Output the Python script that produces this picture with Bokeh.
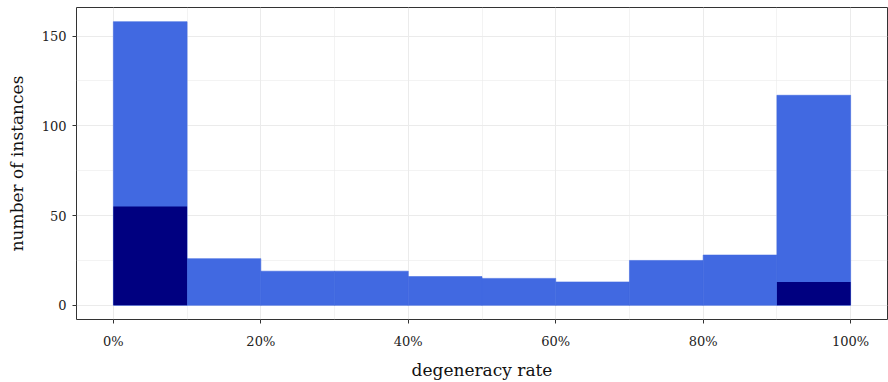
from bokeh.plotting import figure
from bokeh.models import FixedTicker, NumeralTickFormatter, Range1d
from bokeh.embed import file_html
from bokeh.resources import INLINE

# histogram bins (degeneracy rate) and counts
bin_left = [0.0, 0.1, 0.2, 0.3, 0.4, 0.5, 0.6, 0.7, 0.8, 0.9]
bin_right = [0.1, 0.2, 0.3, 0.4, 0.5, 0.6, 0.7, 0.8, 0.9, 1.0]
total_counts = [158, 26, 19, 19, 16, 15, 13, 25, 28, 117]
dark_counts = [55, 0, 0, 0, 0, 0, 0, 0, 0, 13]
x_ticks = [0.0, 0.2, 0.4, 0.6, 0.8, 1.0]
x_minor = [0.1, 0.3, 0.5, 0.7, 0.9]
y_ticks = [0, 50, 100, 150]
y_minor = [25, 75, 125]

FONT = "DejaVu Serif"

p = figure(width=888, height=382, output_backend="svg", toolbar_location=None,
           x_range=Range1d(-0.05, 1.05), y_range=Range1d(-7.9, 165.9),
           min_border_left=76, min_border_right=1, min_border_top=7, min_border_bottom=10)

p.background_fill_color = "white"
p.border_fill_color = "white"
p.outline_line_color = "#333333"
p.outline_line_width = 1

# light bars (total) and dark bars (subset)
p.quad(left=bin_left, right=bin_right, bottom=[0] * len(total_counts), top=total_counts,
       fill_color="#4169E1", line_color="#4169E1", line_width=0.6)
p.quad(left=bin_left, right=bin_right, bottom=[0] * len(dark_counts), top=dark_counts,
       fill_color="#000080", line_color=None)

p.xaxis.ticker = FixedTicker(ticks=x_ticks, minor_ticks=x_minor)
p.yaxis.ticker = FixedTicker(ticks=y_ticks, minor_ticks=y_minor)
p.xaxis.formatter = NumeralTickFormatter(format="0%")

for g in (p.xgrid, p.ygrid):
    g.grid_line_color = "#EBEBEB"
    g.grid_line_width = 1
    g.minor_grid_line_color = "#EBEBEB"
    g.minor_grid_line_width = 0.6

for ax in (p.xaxis, p.yaxis):
    ax.axis_line_color = None
    ax.major_tick_line_color = "#333333"
    ax.major_tick_in = 0
    ax.major_tick_out = 4
    ax.minor_tick_line_color = None
    ax.major_label_text_font = FONT
    ax.major_label_text_font_size = "13px"
    ax.major_label_text_color = "#222222"
    ax.axis_label_text_font = FONT
    ax.axis_label_text_font_size = "17px"
    ax.axis_label_text_font_style = "normal"
    ax.axis_label_text_color = "#111111"

p.xaxis.axis_label = "degeneracy rate"
p.yaxis.axis_label = "number of instances"
p.xaxis.major_label_standoff = 10
p.yaxis.major_label_standoff = 6
p.xaxis.axis_label_standoff = 8
p.yaxis.axis_label_standoff = 12

open("out.html", "w").write(file_html(p, INLINE))
